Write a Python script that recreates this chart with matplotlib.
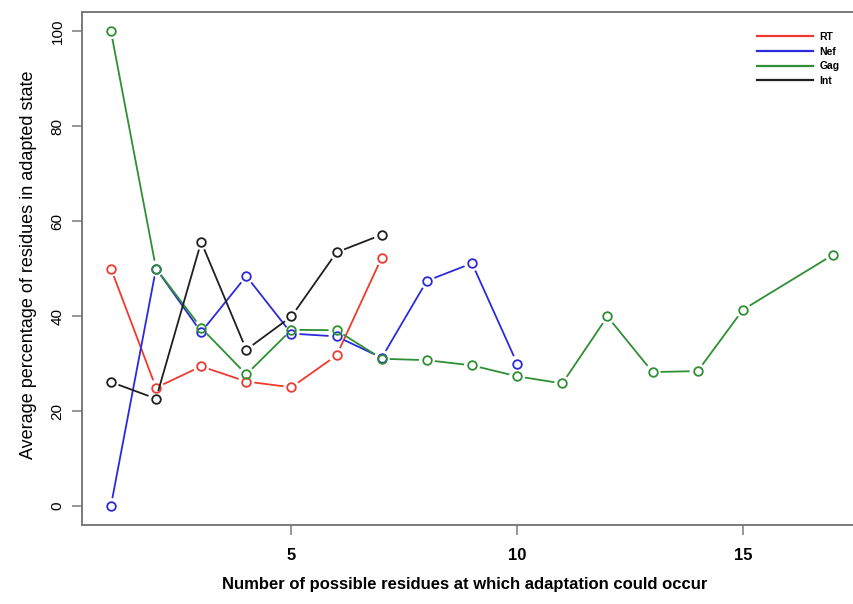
from __future__ import annotations

import matplotlib

matplotlib.use("Agg")
import matplotlib.pyplot as plt
from matplotlib import font_manager
import numpy as np


# values
RT_X = [1, 2, 3, 4, 5, 6, 7]
RT_Y = [50.0, 24.9, 29.4, 26.2, 25.0, 31.7, 52.3]

NEF_X = [1, 2, 3, 4, 5, 6, 7, 8, 9, 10]
NEF_Y = [0.0, 50.0, 36.6, 48.4, 36.3, 35.7, 31.2, 47.4, 51.1, 30.0]

GAG_X = [1, 2, 3, 4, 5, 6, 7, 8, 9, 10, 11, 12, 13, 14, 15, 17]
GAG_Y = [100.0, 50.0, 37.5, 27.7, 37.1, 37.0, 31.0, 30.7, 29.6, 27.3, 25.8, 39.9, 28.2, 28.4, 41.3, 52.9]

INT_X = [1, 2, 3, 4, 5, 6, 7]
INT_Y = [26.1, 22.6, 55.6, 32.9, 39.9, 53.4, 57.1]

SERIES_NAMES = ["RT", "Nef", "Gag", "Int"]
SERIES_COLORS = ["#ee3a2f", "#2b2bdc", "#2f8f34", "#1f1f1f"]

X_TICKS = [5, 10, 15]
Y_TICKS = [0, 20, 40, 60, 80, 100]

X_LABEL = "Number of possible residues at which adaptation could occur"
Y_LABEL = "Average percentage of residues in adapted state"

W_PX, H_PX, DPI = 854, 604, 100
GAP_PX = 8.0  # R type="b" leaves a gap around each point


def pick_family(candidates: list[str]) -> list[str]:
    names = {f.name for f in font_manager.fontManager.ttflist}
    found = [c for c in candidates if c in names]
    return found + ["DejaVu Sans"]


def gapped_segments(ax, xs, ys, color) -> None:
    pts = ax.transData.transform(np.column_stack([xs, ys]))
    inv = ax.transData.inverted()
    for p0, p1 in zip(pts[:-1], pts[1:]):
        d = p1 - p0
        length = np.hypot(*d)
        if length <= 2 * GAP_PX:
            continue
        u = d / length
        a = inv.transform(p0 + u * GAP_PX)
        b = inv.transform(p1 - u * GAP_PX)
        ax.plot([a[0], b[0]], [a[1], b[1]], color=color, lw=1.3, solid_capstyle="butt")


def main() -> int:
    regular = pick_family(["Liberation Sans", "Arial"])
    narrow = pick_family(["Liberation Sans Narrow", "Liberation Sans"])
    plt.rcParams["font.family"] = regular

    fig = plt.figure(figsize=(W_PX / DPI, H_PX / DPI), dpi=DPI)
    ax = fig.add_axes([82 / W_PX, 1 - 525 / H_PX, (862 - 82) / W_PX, (525 - 12) / H_PX])
    ax.set_xlim(0.36, 17.64)
    ax.set_ylim(-4, 104)

    data = [(RT_X, RT_Y), (NEF_X, NEF_Y), (GAG_X, GAG_Y), (INT_X, INT_Y)]
    for (xs, ys), color in zip(data, SERIES_COLORS):
        gapped_segments(ax, xs, ys, color)
        ax.plot(xs, ys, ls="none", marker="o", ms=6.2, mfc="none", mec=color, mew=1.3)

    for spine in ax.spines.values():
        spine.set_color("#7a7a7a")
        spine.set_linewidth(1.4)

    ax.set_xticks(X_TICKS)
    ax.set_xticklabels([str(t) for t in X_TICKS], family=narrow, fontsize=12, fontweight="bold")
    ax.set_yticks(Y_TICKS)
    ax.set_yticklabels([str(t) for t in Y_TICKS], fontsize=11, rotation=90, va="center")
    ax.tick_params(axis="x", length=7.5, width=1.1, color="#7a7a7a", pad=9)
    ax.tick_params(axis="y", length=7.5, width=1.1, color="#7a7a7a", pad=5)

    fig.text(465 / W_PX, 1 - 584 / H_PX, X_LABEL, ha="center", va="center",
             family=narrow, fontsize=12, fontweight="bold")
    fig.text(29 / W_PX, 1 - 265 / H_PX, Y_LABEL, ha="center", va="center",
             rotation=90, fontsize=13)

    handles = [plt.Line2D([], [], color=c, lw=1.6) for c in SERIES_COLORS]
    ax.legend(handles, SERIES_NAMES, loc="upper left", frameon=False,
              bbox_to_anchor=(757 / W_PX, 1 - 32 / H_PX), bbox_transform=fig.transFigure,
              borderpad=0, borderaxespad=0, handlelength=5.4, handletextpad=0.6,
              labelspacing=0.45, prop={"family": narrow, "size": 7.5, "weight": "bold"})

    fig.savefig("out.png", dpi=DPI)
    plt.close(fig)
    return 0


if __name__ == "__main__":
    raise SystemExit(main())
